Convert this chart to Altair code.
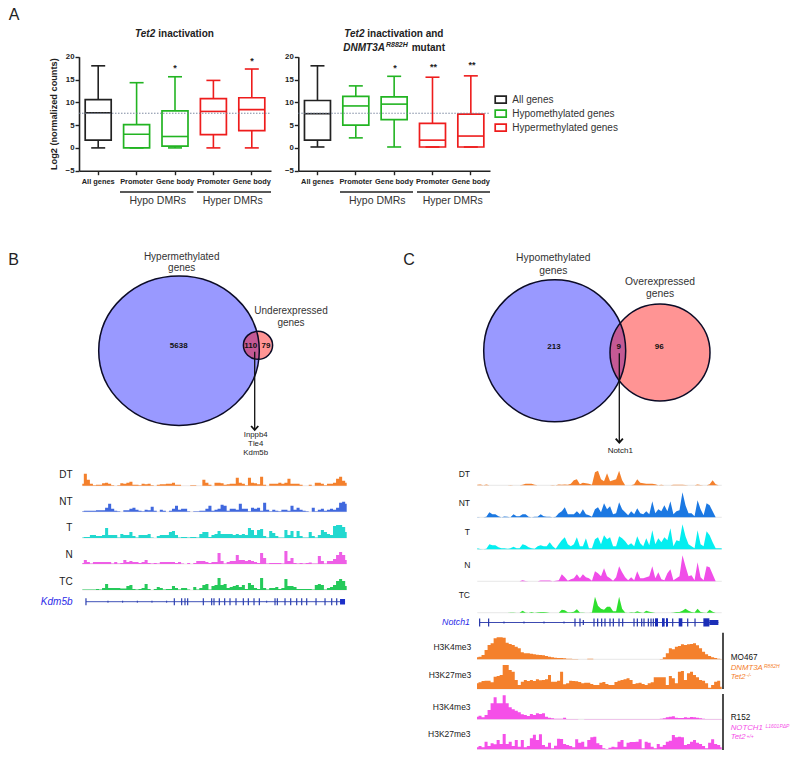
import altair as alt
import pandas as pd

FONT = "Liberation Sans"
INK = "#222222"

# ---------- data ----------
CATEGORIES = ["All genes", "Hypo Promoter", "Hypo Gene body", "Hyper Promoter", "Hyper Gene body"]
BOX_GROUPS = ["All genes", "Hypomethylated genes", "Hypomethylated genes", "Hypermethylated genes", "Hypermethylated genes"]
GROUP_DOMAIN = ["All genes", "Hypomethylated genes", "Hypermethylated genes"]
GROUP_COLORS = ["#222222", "#22b422", "#ee1c1c"]

LEFT_MIN = [0, 0, 0, 0, 0]
LEFT_Q1 = [1.7, 0, 0.4, 2.9, 3.8]
LEFT_MED = [7.7, 3, 2.5, 8, 8.4]
LEFT_Q3 = [10.6, 5.1, 8.1, 10.8, 11]
LEFT_MAX = [18, 14.3, 15.6, 14.8, 17.3]

RIGHT_MIN = [0.2, 2.2, 0.2, 0.2, 0.2]
RIGHT_Q1 = [1.7, 5, 6.2, 0.2, 0.2]
RIGHT_MED = [7.5, 9.2, 9.6, 1.7, 2.6]
RIGHT_Q3 = [10.4, 11.3, 11.2, 5.4, 7.4]
RIGHT_MAX = [18, 13.6, 15.7, 15.5, 15.8]

REF_LEVEL = 7.6

B_DT = [2,12,6,2,.5,1,1,2.5,3,2,.5,0,.5,2.5,2,3,4,1,1,.5,2,1.5,2,.5,0,1,1.5,1.5,2,2,3,1,1,0,0,0,.5,.5,0,0,6,3,1,0,3,3,2.5,1,1.5,2,2,8,3,2,.5,8,3,2.5,1.5,9,1,0,2,2,2,3,2,3,7,2,2,2,1,0,0,1,0,3,3,2,.5,2,2,3,7,9,5,3]
B_NT = [.5,1,1,1,1,1.5,1.5,1.5,4,8,3,1,.5,0,1.5,1.5,3,4,2,1,.5,2,1.5,5,1,0,2,1,0,1,3,6,2,3,3,.5,0,.5,.5,1,1,3,6,1,2,3,7,6,1,3,3,2,8,3,3,.5,4,3,4,1,9,2,.5,2,1,.5,2,2,1,6,2,4,2,1,.5,0,4,.5,2,3,1,2,3,2,4,9,10,8]
B_T = [.5,1,1,3,3,2,2,3,10,3,3,3,.5,4,3,3,6,2,.5,3,3,3,4,.5,0,2,3,3,3,6,7,3,.5,1,1,.5,1,1,.5,4,6,6,1,3,4,7,4,4,4,4,3,4,3,4,3,10,8,3,8,9,2,.5,7,5,2,.5,.5,8,3,7,1,7,2,.5,.5,6,2,.5,3,8,6,4,3,12,13,13,11,6]
B_N = [1,4,2,.5,2,2,2,2,2,2,.5,2,.5,1,4,2,3,2,2,1,2,4,1,.5,1,.5,2,2,2,2,2,1,2,.5,0,1,0,1,3,3,3,2,1,2,2,11,3,.5,2,3,3,9,4,4,3,4,3,2,1,11,6,.5,1,1,1,1,.5,13,3,6,1,.5,1,.5,1,1.5,.5,.5,8,3,.5,3,3,5,9,12,9,4]
B_TC = [.5,.5,.5,.5,.5,1,.5,2,6,2,2,2,2,1.5,1.5,4,5,1,.5,1,2,6,1,0,1,3,2,.5,1,1,4,2,.5,2,2,.5,0,3,.5,2,5,6,.5,4,5,12,5,6,2,3,4,5,3,5,1,7,5,2,1,12,2,.5,2,2,3,1,2,11,4,4,3,1,1,1,1,1,.5,5,6,5,.5,2,3,5,9,11,9,4]

C_DT = [.5,.7,0,.7,0,0,0,0,0,0,0,.3,0,0,0,.5,1.5,1.5,1.5,.5,0,0,0,0,0,.3,0,.7,.5,.7,.5,1.5,5,6,1,2.5,2,1.5,.5,13,14.5,6,4,12,4,5,6,14.5,5,0,0,0,1,6,2.5,2,1.5,1.5,1.5,1,0,.5,0,0,0,.5,.5,.5,.5,.3,0,0,0,.7,.3,0,0,1,5,1,0,0]
C_NT = [.3,0,0,.5,5,3,3,1,0,.7,.5,0,3,1,1,3,3,.5,0,.5,.5,3,1,.5,.5,0,.5,4,6,10,3,3,3,6,3,8,3,2,.5,8,10,5,14,8,11,3,4,15,8,5,2,6,3,9,4,3,6,3,16,4,8,6,12,6,16,3,6,7,25,12,4,4,1,17,8,2,14,12,6,0,0,0]
C_T = [1,.3,0,.5,5,4,4,2,1,1,.5,1,2.5,1,1,5,4,2,1,.5,3,4,3,3,7,3,.5,5,9,12,5,3,5,12,3,3,11,1,1,10,12,5,14,10,12,3,3,13,11,8,4,6,3,13,6,3,11,4,19,5,11,7,12,9,21,3,9,8,25,13,5,3,1,19,5,3,18,14,7,1,1,1]
C_N = [0,0,0,0,0,0,0,0,0,0,0,0,0,0,0,1,.3,0,0,0,0,.7,.7,.7,.7,0,.5,1,7,4,.5,2,3,7,3,7,4,3,.5,10,8,5,13,5,3,.5,4,15,9,4,1,4,1,10,3,3,4,5,15,3,9,2,1,8,12,1,3,5,26,15,5,6,1,19,4,1,15,14,7,0,0,0]
C_TC = [0,0,0,0,0,0,0,0,0,0,0,.3,.3,0,0,2,.3,0,.7,0,.5,.7,.7,.5,0,0,0,0,3,2.5,.5,.5,1,3.5,.3,.3,0,0,.3,16,7,4,3,6,6,1.5,1.5,16,4,.3,0,.5,.3,1.5,.5,0,2,1,.5,0,0,0,0,0,0,.3,.7,.7,2,4,2,.7,.3,4,.7,.3,0,3,1,0,0,0]

# enrichment tracks, signal in thirds of a track unit
MO_K4 = [6,8,13,28,43,48,63,66,66,65,50,46,43,38,33,21,18,18,17,15,14,13,12,10,8,6,5,4,4,3,2,2,1,1,0,0,0,2,2,0,0,0,0,0,0,0,0,0,0,0,0,0,0,0,0,0,0,0,0,0,0,1,6,18,33,30,38,40,45,43,45,46,48,42,33,23,15,10,6,4,2,1]
MO_K27 = [17,20,24,25,25,20,37,39,42,72,72,57,52,27,12,22,27,24,27,24,29,26,27,29,42,22,22,25,52,14,17,25,24,23,21,17,19,19,15,12,12,19,21,15,12,12,21,25,27,29,32,27,15,17,19,15,12,17,20,35,35,35,35,12,39,32,17,52,54,27,47,52,42,35,27,25,17,4,12,22,25,7]
R_K4 = [8,11,6,13,28,48,66,48,48,72,48,36,30,26,21,15,13,10,16,13,18,16,18,8,5,3,2,2,2,5,1,1,1,1,0,0,1,1,1,1,1,1,1,1,1,1,1,1,1,1,1,1,1,1,1,1,1,1,1,1,1,2,3,6,8,9,5,4,4,6,5,7,6,5,3,2,1,1,1,1,1,1]
R_K27 = [6,10,6,23,10,18,15,28,16,46,16,23,10,28,8,28,6,10,33,44,28,45,13,8,20,3,11,32,31,16,13,10,6,30,20,23,8,28,36,38,18,13,3,1,5,8,6,23,28,8,20,22,22,23,30,3,23,20,8,3,16,8,13,23,26,43,36,38,36,13,16,23,28,20,16,10,3,20,30,16,13,6]

KDM5B_EXONS = [168,433,455,465,473,520,545,552,568,584,600,618,640,655,672,688,735,742,765,782,800,815,830,858,885,905,920]
KDM5B_MARKS = [234,278,322,366,410,710]
NOTCH1_EXONS = [179,206,465,480,522,533,545,555,570,580,597,608,642,652,665,672,685,693,700,728,740,758,803,825]
NOTCH1_SHORT = [490]
NOTCH1_MARKS = [252,312,372,432]
NOTCH1_WIDE_START = [705,726,738,776,850]
NOTCH1_WIDE_END = [714,734,744,787,868]

VENN_B = ["5638", "110", "79"]
VENN_C = ["213", "9", "96"]
B_GENES = ["Inppb4", "Tle4", "Kdm5b"]
C_GENES = ["Notch1"]

# ---------- helpers (x, y are page pixels; the chart sits at the 8 px margin) ----------
def label(text, x, y, size=10, color=INK, weight="normal", style="normal", align="center"):
    return alt.Chart(pd.DataFrame({"t": [text]})).mark_text(
        font=FONT, fontSize=size, color=color, fontWeight=weight, fontStyle=style,
        align=align, baseline="middle"
    ).encode(x=alt.value(x - 8), y=alt.value(y - 8), text="t:N")

def sx(dom, p0, p1):
    return alt.Scale(domain=dom, range=[p0 - 8, p1 - 8], nice=False, zero=False)

def sy(dom, pb, pt):
    return alt.Scale(domain=dom, range=[pb - 8, pt - 8], nice=False, zero=False)

ONE = pd.DataFrame({"n": [0]})

def hline(x0, x1, y, color=INK, width=1.5, dash=None):
    kw = {"strokeDash": dash} if dash else {}
    return alt.Chart(ONE).mark_rule(color=color, strokeWidth=width, **kw).encode(
        x=alt.value(x0 - 8), x2=alt.value(x1 - 8), y=alt.value(y - 8))

def vline(x, y0, y1, color="#111111", width=1.5):
    return alt.Chart(ONE).mark_rule(color=color, strokeWidth=width).encode(
        x=alt.value(x - 8), y=alt.value(y0 - 8), y2=alt.value(y1 - 8))

def ell_path(ratio):
    return f"M-1,0A1,{ratio} 0 1,1 1,0A1,{ratio} 0 1,1 -1,0Z"

def ellipse(cx, cy, rx, ry, fill=None, opacity=1.0, stroke=None):
    kw = dict(shape=ell_path(round(ry / rx, 4)), size=(2 * rx) ** 2)
    if fill:
        kw.update(filled=True, fill=fill, fillOpacity=opacity, strokeWidth=0)
    else:
        kw.update(filled=False, stroke=stroke, strokeWidth=1.5, opacity=1)
    return alt.Chart(ONE).mark_point(**kw).encode(x=alt.value(cx - 8), y=alt.value(cy - 8))

ARROW = "M-0.9,-1L0,0L0.9,-1"
def arrow(x, y0, y1):
    return [vline(x, y0, y1, width=1.3),
            alt.Chart(ONE).mark_point(shape=ARROW, size=64, filled=False, stroke="#111111",
                                      strokeWidth=1.8, opacity=1).encode(
                x=alt.value(x - 8), y=alt.value(y1 - 8))]

layers = []

# ---------- A: box plots ----------
def box_panel(x0, x1, mins, q1, med, q3, maxs, with_title):
    df = pd.DataFrame({"cat": CATEGORIES, "group": BOX_GROUPS, "lo": mins, "q1": q1,
                       "med": med, "q3": q3, "hi": maxs})
    xs = alt.Scale(type="band", domain=CATEGORIES, range=[x0 - 8, x1 - 8], paddingInner=0, paddingOuter=0)
    ys = sy([-5, 20], 170.7, 56.7)
    col = alt.Color("group:N", scale=alt.Scale(domain=GROUP_DOMAIN, range=GROUP_COLORS), legend=None)
    X0 = alt.X("cat:N", scale=xs, axis=None, title=None)
    xaxis = alt.Axis(orient="bottom", offset=-(744 - (170.7 - 8)), title=None, labelAngle=0, grid=False,
                     labelFont=FONT, labelFontSize=7.4, labelFontWeight="bold", labelColor=INK,
                     labelPadding=3, tickSize=4, tickWidth=1.4, tickColor=INK, domainWidth=1.6,
                     domainColor=INK,
                     labelExpr="indexof(datum.label,'Promoter')>=0?'Promoter':indexof(datum.label,'Gene body')>=0?'Gene body':datum.label")
    ykw = dict(title="Log2 (normalized counts)", titleFont=FONT, titleFontSize=9.2, titleFontWeight="bold",
               titleColor=INK, titlePadding=7) if with_title else dict(title=None)
    yaxis = alt.Axis(orient="left", offset=-(x0 - 8), values=[-5, 0, 5, 10, 15, 20], grid=False,
                     labelFont=FONT, labelFontSize=7.8, labelFontWeight="bold", labelColor=INK,
                     labelPadding=1, tickSize=4, tickWidth=1.4, tickColor=INK, domainWidth=1.6,
                     domainColor=INK, **ykw)
    stroke = alt.Stroke("group:N", scale=alt.Scale(domain=GROUP_DOMAIN, range=GROUP_COLORS), legend=None)
    base = alt.Chart(df)
    return [
        base.mark_rule(strokeWidth=1.6).encode(x=X0, y=alt.Y("q3:Q", scale=ys, axis=None), y2="hi:Q", color=col),
        base.mark_rule(strokeWidth=1.6).encode(x=X0, y=alt.Y("lo:Q", scale=ys, axis=None), y2="q1:Q", color=col),
        base.mark_bar(size=26, fillOpacity=0, strokeWidth=1.7).encode(
            x=alt.X("cat:N", scale=xs, axis=xaxis, title=None),
            y=alt.Y("q1:Q", scale=ys, axis=yaxis), y2="q3:Q", stroke=stroke),
        base.mark_tick(size=26, thickness=1.6, opacity=1).encode(x=X0, y=alt.Y("med:Q", scale=ys, axis=None), color=col),
        base.mark_tick(size=14, thickness=1.6, opacity=1).encode(x=X0, y=alt.Y("hi:Q", scale=ys, axis=None), color=col),
        base.mark_tick(size=14, thickness=1.6, opacity=1).encode(x=X0, y=alt.Y("lo:Q", scale=ys, axis=None), color=col),
        alt.Chart(pd.DataFrame({"v": [REF_LEVEL]})).mark_rule(color="#6f7d96", strokeWidth=0.9, strokeDash=[1.5, 1.5]).encode(
            x=alt.value(x0 - 8), x2=alt.value(x1 - 8), y=alt.Y("v:Q", scale=ys, axis=None)),
    ]

layers += box_panel(79, 271, LEFT_MIN, LEFT_Q1, LEFT_MED, LEFT_Q3, LEFT_MAX, True)
layers += box_panel(298.3, 490, RIGHT_MIN, RIGHT_Q1, RIGHT_MED, RIGHT_Q3, RIGHT_MAX, False)

# legend of panel A
leg = pd.DataFrame({"group": GROUP_DOMAIN})
leg_y = alt.Y("group:N", scale=alt.Scale(type="point", domain=GROUP_DOMAIN, range=[99.7 - 8, 127.7 - 8], padding=0), axis=None)
layers += [
    alt.Chart(leg).mark_point(shape="M-1,-0.64H1V0.64H-1Z", size=121, filled=False, strokeWidth=1.7, opacity=1).encode(
        x=alt.value(500.7 - 8), y=leg_y,
        stroke=alt.Stroke("group:N", scale=alt.Scale(domain=GROUP_DOMAIN, range=GROUP_COLORS), legend=None)),
    alt.Chart(leg).mark_text(font=FONT, fontSize=10, color="#333333", align="left", baseline="middle").encode(
        x=alt.value(512.3 - 8), y=leg_y, text="group:N"),
]

layers += [
    label("A", 14, 15, 16), label("B", 13.5, 259.5, 16), label("C", 409, 259.5, 16),
    label("Tet2", 135, 34, 10, weight="bold", style="italic", align="left"),
    label("inactivation", 158.3, 34, 10, weight="bold", align="left"),
    label("Tet2", 344.3, 33.5, 10, weight="bold", style="italic", align="left"),
    label("inactivation and", 367.3, 33.5, 10, weight="bold", align="left"),
    label("DNMT3A", 343.3, 48, 10, weight="bold", style="italic", align="left"),
    label("R882H", 386, 45, 7, weight="bold", style="italic", align="left"),
    label("mutant", 411.7, 48, 10, weight="bold", align="left"),
    label("*", 175, 68, 9, weight="bold"), label("*", 252, 60.5, 9, weight="bold"),
    label("*", 395, 68, 9, weight="bold"), label("**", 433.5, 66.5, 9, weight="bold"), label("**", 472, 64.5, 9, weight="bold"),
    hline(120, 193.5, 192), hline(197, 271, 192), hline(340, 413, 192), hline(417, 490, 192),
    label("Hypo DMRs", 157.7, 201, 10.5, color="#333333"), label("Hyper DMRs", 232.7, 201, 10.5, color="#333333"),
    label("Hypo DMRs", 377.3, 201, 10.5, color="#333333"), label("Hyper DMRs", 452.7, 201, 10.5, color="#333333"),
]

# ---------- B and C: Venn ----------
OUT = "#0b0b26"
layers += [
    ellipse(179, 350.7, 80.3, 74.7, fill="#9999ff"),
    ellipse(258, 345.3, 14.6, 14, fill="#ff0000", opacity=0.42),
    ellipse(179, 350.7, 80.3, 74.7, stroke=OUT),
    ellipse(258, 345.3, 14.6, 14, stroke=OUT),
    ellipse(554.7, 350.8, 71, 71, fill="#9999ff"),
    ellipse(660, 352.5, 50, 48.5, fill="#ff0000", opacity=0.42),
    ellipse(554.7, 350.8, 71, 71, stroke=OUT),
    ellipse(660, 352.5, 50, 48.5, stroke=OUT),
    label(VENN_B[0], 178.7, 345.5, 8, weight="bold", color="#111111"),
    label(VENN_B[1], 250.7, 345.5, 8, weight="bold", color="#111111"),
    label(VENN_B[2], 266, 345.5, 8, weight="bold", color="#111111"),
    label(VENN_C[0], 554, 347, 8, weight="bold", color="#111111"),
    label(VENN_C[1], 618.7, 347, 8, weight="bold", color="#111111"),
    label(VENN_C[2], 659.3, 347, 8, weight="bold", color="#111111"),
    label("Hypermethylated", 181.7, 256.7, 10, color="#333333"), label("genes", 181.7, 268, 10, color="#333333"),
    label("Underexpressed", 291, 311.3, 10, color="#333333"), label("genes", 291, 322.7, 10, color="#333333"),
    label("Hypomethylated", 553.3, 258, 10.3, color="#333333"), label("genes", 553.3, 270.7, 10.3, color="#333333"),
    label("Overexpressed", 660, 282, 10.3, color="#333333"), label("genes", 660, 294.3, 10.3, color="#333333"),
]
layers += arrow(254.7, 351.7, 430)
layers += arrow(619.3, 353.3, 442.7)
layers += [label(B_GENES[0], 255.7, 434.5, 7.8), label(B_GENES[1], 255.7, 443.5, 7.8), label(B_GENES[2], 255.7, 452.5, 7.8),
           label(C_GENES[0], 620.3, 451, 8)]

# ---------- signal tracks ----------
def track(values, p0, p1, base, color, unit=1.0, line_color=None, shape="linear"):
    n = len(values)
    df = pd.DataFrame({"bin": list(range(n)), "signal": values})
    top = max(values)
    xs = sx([0, n - 1], p0, p1)
    ys = sy([0, top], base, base - top / unit)
    out = []
    if line_color:
        out.append(hline(p0, p1, base, color=line_color, width=0.7))
    out.append(alt.Chart(df).mark_area(color=color, interpolate=shape, opacity=1).encode(
        x=alt.X("bin:Q", scale=xs, axis=None), y=alt.Y("signal:Q", scale=ys, axis=None)))
    return out

B_SPEC = [(B_DT, 485.7, "#f4802c", "DT", 66, 475.3), (B_NT, 511.7, "#4068de", "NT", 66, 502.3),
          (B_T, 538, "#22d8cf", "T", 69.3, 528.3), (B_N, 564, "#ee5fe6", "N", 69, 555),
          (B_TC, 590, "#25c95a", "TC", 66, 581.7)]
for vals, base, colr, name, lx, ly in B_SPEC:
    layers += track(vals, 82.3, 346.7, base, colr, line_color="#e6dfe0", shape="step")
    layers.append(label(name, lx, ly, 10, color="#1a1a1a"))

C_SPEC = [(C_DT, 485.3, "#f4802c", "DT", 464.3, 474.3), (C_NT, 517.3, "#1b78e2", "NT", 464.3, 503),
          (C_T, 549.3, "#04eef0", "T", 467.3, 531.7), (C_N, 581.3, "#f04de8", "N", 467.3, 565),
          (C_TC, 612.7, "#2ee02e", "TC", 464.3, 595)]
for vals, base, colr, name, lx, ly in C_SPEC:
    layers += track(vals, 477.3, 721.7, base, colr, line_color="#dddddd")
    layers.append(label(name, lx, ly, 8.5, color="#1a1a1a"))

E_SPEC = [(MO_K4, 659.3, "#f4802c", "H3K4me3", 452.3, 646.7), (MO_K27, 689, "#f4802c", "H3K27me3", 450, 675.3),
          (R_K4, 719.3, "#f54fe8", "H3K4me3", 451.7, 706.7), (R_K27, 749.3, "#f54fe8", "H3K27me3", 449.3, 734)]
for vals, base, colr, name, lx, ly in E_SPEC:
    layers += track(vals, 477, 721.7, base, colr, unit=3.0, line_color="#dddddd", shape="step")
    layers.append(label(name, lx, ly, 8.5, color="#1a1a1a"))

# ---------- gene models ----------
def gene(name, lx, ly, lsize, dom, p0, p1, y, start, end, exons, marks, half, color):
    xs = sx(dom, p0, p1)
    df = pd.DataFrame({"pos": exons})
    md = pd.DataFrame({"pos": marks})
    X = alt.X("pos:Q", scale=xs, axis=None)
    return [
        hline(p0 + (start - dom[0]) * (p1 - p0) / (dom[1] - dom[0]), p0 + (end - dom[0]) * (p1 - p0) / (dom[1] - dom[0]), y, color=color, width=0.9),
        alt.Chart(df).mark_rule(color=color, strokeWidth=1.2).encode(x=X, y=alt.value(y - half - 8), y2=alt.value(y + half - 8)),
        alt.Chart(md).mark_rule(color=color, strokeWidth=1).encode(x=X, y=alt.value(y - 1 - 8), y2=alt.value(y + 1 - 8)),
        label(name, lx, ly, lsize, color="#2a2ae8", style="italic"),
    ]

layers += gene("Kdm5b", 56.7, 602, 10, [157, 950], 82.3, 346.7, 601.7, 168, 945, KDM5B_EXONS, KDM5B_MARKS, 3.5, "#2b3fb0")
layers.append(alt.Chart(pd.DataFrame({"a": [930], "b": [945]})).mark_rect(color="#1c2fc8").encode(
    x=alt.X("a:Q", scale=sx([157, 950], 82.3, 346.7), axis=None), x2="b:Q",
    y=alt.value(599 - 8), y2=alt.value(604.5 - 8)))

layers += gene("Notch1", 456, 622.3, 8.8, [172, 905], 477.3, 721.7, 622.5, 179, 895, NOTCH1_EXONS, NOTCH1_MARKS, 4, "#2636a8")
layers.append(alt.Chart(pd.DataFrame({"pos": NOTCH1_SHORT})).mark_rule(color="#2636a8", strokeWidth=1.2).encode(
    x=alt.X("pos:Q", scale=sx([172, 905], 477.3, 721.7), axis=None), y=alt.value(620 - 8), y2=alt.value(625 - 8)))
layers.append(alt.Chart(pd.DataFrame({"a": NOTCH1_WIDE_START, "b": NOTCH1_WIDE_END})).mark_rect(color="#1c2fb8").encode(
    x=alt.X("a:Q", scale=sx([172, 905], 477.3, 721.7), axis=None), x2="b:Q",
    y=alt.value(618.3 - 8), y2=alt.value(626.5 - 8)))
layers.append(alt.Chart(pd.DataFrame({"a": [868], "b": [895]})).mark_rect(color="#1c2fb8").encode(
    x=alt.X("a:Q", scale=sx([172, 905], 477.3, 721.7), axis=None), x2="b:Q",
    y=alt.value(620 - 8), y2=alt.value(625 - 8)))

# ---------- sample annotations ----------
ORANGE = "#f4802c"
PINK = "#f54fe8"
layers += [
    vline(723, 632.7, 689), vline(723, 694, 750),
    label("MO467", 730.7, 658, 8.2, align="left", color="#111111"),
    label("DNMT3A", 730.7, 667.5, 7.8, color=ORANGE, style="italic", align="left"),
    label("R882H", 764, 666, 5, color=ORANGE, style="italic", align="left"),
    label("Tet2", 730.7, 677, 7.8, color=ORANGE, style="italic", align="left"),
    label("-/-", 746.5, 675, 5, color=ORANGE, style="italic", align="left"),
    label("R152", 730.7, 718.3, 8.2, align="left", color="#111111"),
    label("NOTCH1", 730.7, 727.5, 7.8, color=PINK, style="italic", align="left"),
    label("L1601PΔP", 765.5, 726, 5, color=PINK, style="italic", align="left"),
    label("Tet2", 730.7, 737.3, 7.8, color=PINK, style="italic", align="left"),
    label("+/+", 746.5, 735.5, 5, color=PINK, style="italic", align="left"),
]

chart = alt.layer(*layers).resolve_scale(x="independent", y="independent").properties(
    width=784, height=744, padding=0, autosize=alt.AutoSizeParams(type="none")
).configure_view(stroke=None).configure_axis(grid=False)

chart.save("out.html", embed_options={"renderer": "svg", "actions": False})
